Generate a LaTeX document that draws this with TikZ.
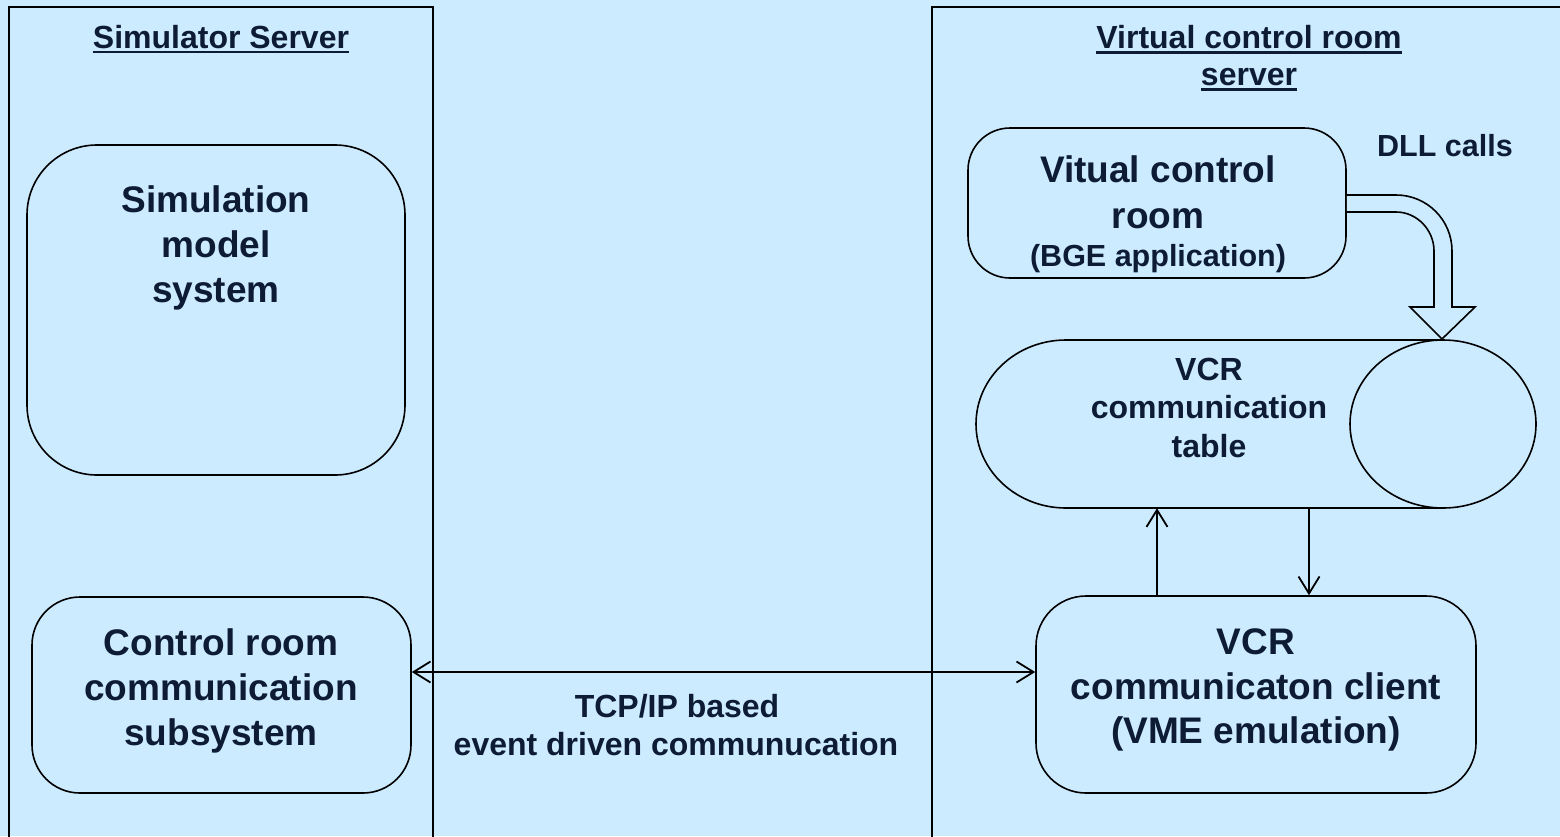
\documentclass[tikz,border=0pt]{standalone}
\usepackage{fontspec}
\setmainfont{Liberation Sans}
\usetikzlibrary{arrows.meta}
\definecolor{bg}{HTML}{CCEBFF}
\definecolor{ink}{HTML}{0D1B33}
\begin{document}
\begin{tikzpicture}[x=1pt,y=-1pt,
  panel/.style={draw=black,line width=2.2pt},
  box/.style={draw=black,line width=1.6pt,rectangle,inner sep=0pt,fill=bg},
  big/.style={text=ink,inner sep=0pt,anchor=base,font=\bfseries\fontsize{37}{45}\selectfont},
  mid/.style={text=ink,inner sep=0pt,anchor=base,font=\bfseries\fontsize{32}{38}\selectfont},
  small/.style={text=ink,inner sep=0pt,anchor=base,font=\bfseries\fontsize{30.5}{36}\selectfont},
  uline/.style={draw=ink,line width=2.5pt},
  conn/.style={draw=black,line width=1.8pt,-{Straight Barb[length=17pt,width=21pt,line width=1.8pt]}},
  connb/.style={draw=black,line width=1.8pt,{Straight Barb[length=17pt,width=21pt,line width=1.8pt]}-{Straight Barb[length=17pt,width=21pt,line width=1.8pt]}}
]
\fill[bg] (0,0) rectangle (1560,836);
\useasboundingbox (0,0) rectangle (1560,836);

% panels
\draw[panel] (9,860) -- (9,7) -- (433,7) -- (433,860);
\draw[panel] (932,860) -- (932,7) -- (1600,7);

% titles
\node[mid] (t1) at (221,48) {Simulator Server};
\draw[uline] ([yshift=-4pt]t1.base west) -- ([yshift=-4pt]t1.base east);
\node[mid] (t2) at (1249,48) {Virtual control room};
\draw[uline] ([yshift=-4.5pt]t2.base west) -- ([yshift=-4.5pt]t2.base east);
\node[mid] (t3) at (1249,85) {server};
\draw[uline] ([yshift=-4.5pt]t3.base west) -- ([yshift=-4.5pt]t3.base east);

% boxes
\node[box,rounded corners=70pt,minimum width=378pt,minimum height=330pt] (sim) at (216,310) {};
\node[box,rounded corners=48pt,minimum width=379pt,minimum height=196pt] (ctrl) at (221.5,695) {};
\node[box,rounded corners=42pt,minimum width=378pt,minimum height=150pt] (vcr) at (1157,203) {};
\node[box,rounded corners=50pt,minimum width=440pt,minimum height=197pt] (client) at (1256,694.5) {};
\node[inner sep=0pt,minimum width=560pt,minimum height=168pt] (tab) at (1256,424) {};

% cylinder (communication table)
\draw[line width=1.6pt,fill=bg] (1443,340) -- (1066,340)
  .. controls (1016.3,340) and (976,377.6) .. (976,424)
  .. controls (976,470.4) and (1016.3,508) .. (1066,508) -- (1443,508);
\draw[line width=1.6pt,fill=bg] (1443,424) ellipse [x radius=93pt, y radius=84pt];

% texts in boxes
\node[big] (s1) at (216,212) {Simulation};
\node[big] (s2) at (216,257) {model};
\node[big] (s3) at (216,302) {system};

\node[big] (c1) at (221,655) {Control room};
\node[big] (c2) at (221,700) {communication};
\node[big] (c3) at (221,745) {subsystem};

\node[big] (v1) at (1158,182) {Vitual control};
\node[big] (v2) at (1158,228) {room};
\node[small] (v3) at (1158,266) {(BGE application)};

\node[small] (dll) at (1445,156) {DLL calls};

\node[mid] (b1) at (1209,380) {VCR};
\node[mid] (b2) at (1209,418) {communication};
\node[mid] (b3) at (1209,457) {table};

\node[big] (k1) at (1256,654) {VCR};
\node[big] (k2) at (1256,699) {communicaton client};
\node[big] (k3) at (1256,743) {(VME emulation)};

\node[mid] (p1) at (677,717) {TCP/IP based};
\node[mid] (p2) at (676,755) {event driven communucation};

% DLL block arrow
\coordinate (d1) at (0,195);
\coordinate (d2) at (0,212);
\draw[line width=1.6pt,fill=bg] (vcr.east |- d1) -- (1396,195)
  .. controls (1427,195) and (1452,220) .. (1452,251) -- (1452,307)
  -- (1475,307) -- (1442,339) -- (1410,307) -- (1434,307) -- (1434,251)
  .. controls (1434,230) and (1417,212) .. (1396,212) -- (vcr.east |- d2);

% connectors
\coordinate (ua) at (1157,0);
\coordinate (da) at (1309,0);
\coordinate (ty) at (0,672);
\draw[conn] (client.north -| ua) -- (tab.south -| ua);
\draw[conn] (tab.south -| da) -- (client.north -| da);
\draw[connb] (ctrl.east |- ty) -- (client.west |- ty);
\end{tikzpicture}
\end{document}
